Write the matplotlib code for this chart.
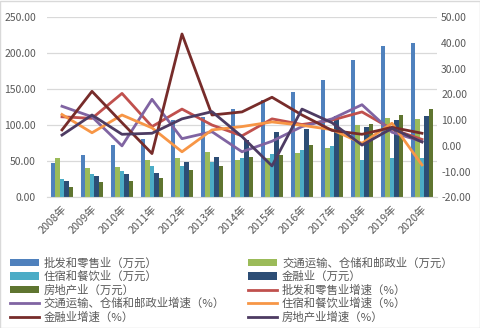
import numpy as np
import matplotlib
matplotlib.use("Agg")
import matplotlib.pyplot as plt
from matplotlib.patches import Rectangle

plt.rcParams['font.family'] = ['Noto Sans CJK SC', 'DejaVu Sans']

years = ["2008年", "2009年", "2010年", "2011年", "2012年", "2013年", "2014年",
         "2015年", "2016年", "2017年", "2018年", "2019年", "2020年"]

# 万元 (left axis)
pifa = [47.6, 58.7, 72.6, 80.7, 108, 111.5, 122.6, 135, 146.5, 162.9, 190.7, 210, 214.3]
jiaotong = [54.6, 40.7, 42.1, 51.8, 54.6, 62.9, 51.8, 54.6, 60.9, 68.5, 100.4, 110.1, 108.7]
zhusu = [25.4, 32.4, 36.5, 43.5, 43.5, 49.0, 54.6, 60.5, 65.7, 71.3, 51.8, 54.6, 54.6]
jinrong = [22.6, 29.6, 32.4, 33.8, 49.0, 55.9, 79.6, 90.7, 94.5, 112.6, 97.6, 107.3, 112.6]
fangdichan = [14.3, 21.3, 22.6, 26.8, 37.9, 43.5, 56.4, 58.7, 72.6, 88, 101.8, 114.3, 122.6]

# 增速 % (right axis)
pifa_g = [11.3, 10.7, 20.4, 7.5, 14.3, 8.1, 3.9, 10.5, 8.3, 10.0, 13.2, 6.5, 2.5]
jiaotong_g = [15.4, 11.3, 0.0, 18.1, 2.8, 5.5, -2.3, 1.8, 7.5, 10.5, 16.0, 5.3, 1.7]
zhusu_g = [12.2, 5.1, 12.0, 7.0, -2.3, 6.2, 7.5, 9.3, 8.0, 6.3, 1.0, 8.8, -7.4]
jinrong_g = [6.2, 21.2, 9.0, -3.0, 43.5, 12.0, 13.2, 18.9, 12.0, 6.0, 4.5, 7.2, 4.9]
fangdichan_g = [4.2, 12.0, 4.5, 4.9, 10.5, 13.3, 3.6, -7.8, 14.3, 9.0, 0.3, 6.8, 1.5]

bar_series = [
    ("批发和零售业（万元）", pifa, "#4F81BD"),
    ("交通运输、仓储和邮政业（万元）", jiaotong, "#9BBB59"),
    ("住宿和餐饮业（万元）", zhusu, "#4BACC6"),
    ("金融业（万元）", jinrong, "#2C4D75"),
    ("房地产业（万元）", fangdichan, "#5F7530"),
]
line_series = [
    ("批发和零售业增速（%）", pifa_g, "#C0504D"),
    ("交通运输、仓储和邮政业增速（%）", jiaotong_g, "#8064A2"),
    ("住宿和餐饮业增速（%）", zhusu_g, "#F79646"),
    ("金融业增速（%）", jinrong_g, "#772C2A"),
    ("房地产业增速（%）", fangdichan_g, "#4D3B62"),
]

txt = "#595959"
fig = plt.figure(figsize=(4.81, 3.28), dpi=100)
ax = fig.add_axes([0.0977, 0.3985, 0.8108, 0.5488])
x = np.arange(len(years))
w = 0.15

handles = []
for i, (name, vals, c) in enumerate(bar_series):
    h = ax.bar(x + (i - 2) * w, vals, w, color=c, label=name, zorder=2)
    handles.append(h)

ax.set_xlim(-0.5, len(years) - 0.5)
ax.set_ylim(0, 250)
ax.set_yticks(np.arange(0, 251, 50))
ax.yaxis.set_major_formatter(matplotlib.ticker.FormatStrFormatter("%.2f"))
ax.grid(axis="y", color="#D9D9D9", lw=0.9, zorder=0)
ax.set_axisbelow(True)
for s in ["left", "right", "top"]:
    ax.spines[s].set_visible(False)
ax.spines["bottom"].set_color("#D9D9D9")
ax.tick_params(length=0, labelsize=7.5, colors=txt, pad=8)
ax.set_xticks(x)
ax.set_xticklabels(years, rotation=45, ha="right", rotation_mode="anchor", fontsize=7.8)
ax.tick_params(axis="x", pad=5)

ax2 = ax.twinx()
for name, vals, c in line_series:
    h, = ax2.plot(x, vals, color=c, lw=2, label=name)
    handles.append(h)
ax2.set_ylim(-20, 50)
ax2.set_yticks(np.arange(-20, 51, 10))
ax2.yaxis.set_major_formatter(matplotlib.ticker.FormatStrFormatter("%.2f"))
for s in ["left", "right", "top", "bottom"]:
    ax2.spines[s].set_visible(False)
ax2.tick_params(length=0, labelsize=7.5, colors=txt, pad=3)

# row-wise legend order for 2 columns
order = [0, 2, 4, 6, 8, 1, 3, 5, 7, 9]
hs = [handles[i] for i in order]
labels = [h.get_label() for h in hs]
fig.legend(hs, labels, loc="upper left", bbox_to_anchor=(0.02, 0.215), ncol=2,
           frameon=False, fontsize=8.2, labelcolor=txt, handlelength=2.6,
           handleheight=0.6, labelspacing=0.2, columnspacing=2.0,
           handletextpad=0.4, borderpad=0, borderaxespad=0)

fig.patches.append(Rectangle((0.001, 0.001), 0.997, 0.996, transform=fig.transFigure,
                             fill=False, edgecolor="#D9D9D9", lw=1))

fig.savefig("out.png", dpi=100)
